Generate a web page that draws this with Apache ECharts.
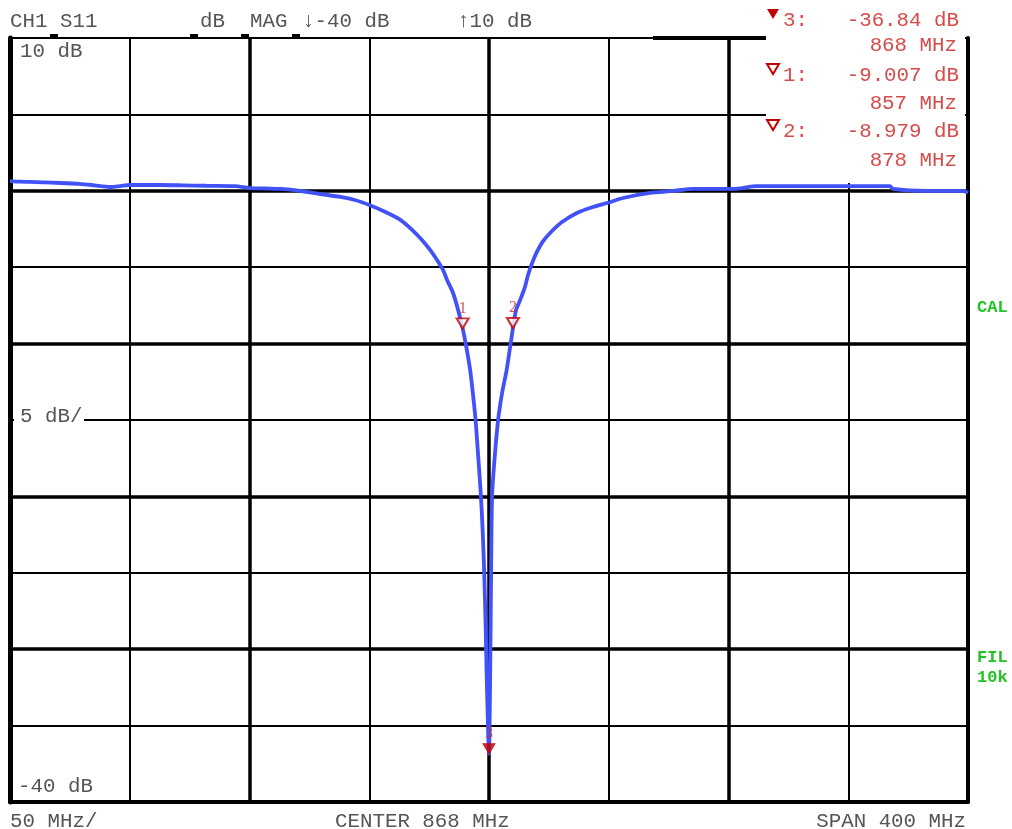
<!DOCTYPE html>
<html>
<head>
<meta charset="utf-8">
<style>
html,body{margin:0;padding:0;background:#fff;}
#chart{width:1012px;height:829px;}
</style>
<script src="https://cdn.jsdelivr.net/npm/echarts@6/dist/echarts.min.js"></script>
</head>
<body>
<div id="chart"></div>
<script>
// ---- data ----
const CENTER_MHZ = 868;
const SPAN_MHZ = 400;
const DIV_MHZ = 50;
const REF_TOP_DB = 10;
const REF_BOTTOM_DB = -40;
const DB_PER_DIV = 5;

const freqMHz = [
  668, 672, 676, 682, 689, 697, 702, 706, 710, 714, 718, 725, 731, 740, 750, 762, 768, 775, 781, 789,
  797, 806, 812, 818, 825, 831, 836, 840, 843.4, 846.3, 848.8, 850.5, 853, 855.1, 857, 858.5, 860.1,
  861.3, 862.4, 863.5, 864.6, 865.4, 866.1, 866.6, 867.0, 867.4, 868,
  868.3, 868.6, 868.9, 869.3, 870.4, 871.8, 873.5, 875.4, 878, 879.3, 881, 883, 884.3, 886, 888, 890.6,
  894.3, 898.5, 904.7, 911.4, 917.3, 924, 935.2, 944.8, 953.2, 969.9, 979.9, 1011.6, 1035.4, 1036.7,
  1050.9, 1065.9, 1068
];
const s11dB = [
  0.64, 0.60, 0.58, 0.55, 0.51, 0.45, 0.38, 0.31, 0.25, 0.31, 0.38, 0.38, 0.38, 0.36, 0.33, 0.31, 0.18, 0.15, 0.12, 0.00,
  -0.20, -0.40, -0.60, -0.93, -1.40, -1.90, -2.57, -3.22, -3.87, -4.53, -5.18, -5.84, -6.69, -7.80, -9.007, -10.2, -11.7,
  -13.3, -15.0, -17.4, -19.9, -22.4, -25.5, -28.5, -31.5, -34.0, -36.84,
  -34.3, -30.0, -24.5, -19.9, -17.4, -15.0, -13.2, -11.7, -8.979, -7.80, -7.15, -6.30, -5.51, -4.73, -4.00, -3.29,
  -2.63, -2.04, -1.45, -1.06, -0.80, -0.47, -0.14, -0.01, 0.12, 0.12, 0.31, 0.31, 0.31, 0.12,
  -0.01, -0.01, -0.14
];

const markerIds = ['3', '1', '2'];
const markerFreq = [868, 857, 878];
const markerDb = [-36.84, -9.007, -8.979];
const markerFilled = [true, false, false];

const headerTexts = ['CH1 S11', 'dB  MAG', '\u2193-40 dB', '\u219110 dB'];
const yTopLabel = REF_TOP_DB + ' dB';
const yScaleLabel = DB_PER_DIV + ' dB/';
const yBottomLabel = REF_BOTTOM_DB + ' dB';
const xScaleLabel = DIV_MHZ + ' MHz/';
const xCenterLabel = 'CENTER ' + CENTER_MHZ + ' MHz';
const xSpanLabel = 'SPAN ' + SPAN_MHZ + ' MHz';
const sideLabels = ['CAL', 'FIL', '10k'];

// ---- chart ----
const chart = echarts.init(document.getElementById('chart'), null, {renderer: 'canvas'});
const HALF = SPAN_MHZ / 2;
const MONO = "'Liberation Mono', 'DejaVu Sans Mono', monospace";
const GREY = '#555555';
const RED_TXT = '#d44c4c';
const RED = '#c40000';
const GREEN = '#22c322';

const traceData = freqMHz.map((f, i) => [f - CENTER_MHZ, s11dB[i]]);
const markerData = markerIds.map((id, i) => ({
  value: [markerFreq[i] - CENTER_MHZ, markerDb[i]],
  name: id,
  itemStyle: markerFilled[i]
    ? {color: RED, borderColor: RED, borderWidth: 1}
    : {color: '#ffffff', borderColor: RED, borderWidth: 2}
}));

const graphics = [];
function txt(x, y, text, opts) {
  graphics.push({
    type: 'text', x: x, y: y, z: 200,
    style: Object.assign({
      text: text, fill: GREY, font: '20.8px ' + MONO,
      textAlign: 'left', textVerticalAlign: 'middle'
    }, opts || {})
  });
}
function rect(x, y, w, h, fill, z) {
  graphics.push({type: 'rect', z: z || 150, shape: {x: x, y: y, width: w, height: h}, style: {fill: fill}});
}

// cover grid where the marker panel sits, and behind scale label
rect(766, 0, 199, 183, '#ffffff', 150);
rect(14, 416, 70, 8, '#ffffff', 150);
// top border thick segment and little ticks
rect(653, 36, 113, 4, '#000000', 160);
[50, 190, 241, 292].forEach(x => rect(x, 34, 8, 4, '#000000', 160));

// header
txt(10, 21, headerTexts[0]);
txt(200, 21, headerTexts[1]);
txt(302, 21, headerTexts[2]);
txt(457, 21, headerTexts[3]);

// left labels
txt(20, 51, yTopLabel);
txt(20, 416, yScaleLabel);
txt(18, 786, yBottomLabel);

// bottom labels
txt(10, 821, xScaleLabel);
txt(335, 821, xCenterLabel);
txt(966, 821, xSpanLabel, {textAlign: 'right'});

// side labels
txt(977, 308, sideLabels[0], {fill: GREEN, font: 'bold 17px ' + MONO});
txt(977, 658, sideLabels[1], {fill: GREEN, font: 'bold 17px ' + MONO});
txt(977, 678, sideLabels[2], {fill: GREEN, font: 'bold 17px ' + MONO});

// marker panel
const panelY1 = [20, 75, 131];
const panelY2 = [45, 103, 160];
markerIds.forEach((id, i) => {
  const ty = panelY1[i];
  graphics.push({
    type: 'polygon', z: 200,
    shape: {points: [[767, ty - 11], [779, ty - 11], [773, ty - 1]]},
    style: markerFilled[i] ? {fill: RED} : {fill: '#ffffff', stroke: RED, lineWidth: 2}
  });
  txt(783, ty, id + ':', {fill: RED_TXT});
  txt(959, ty, markerDb[i].toPrecision(4) + ' dB', {fill: RED_TXT, textAlign: 'right'});
  txt(957, panelY2[i], markerFreq[i] + ' MHz', {fill: RED_TXT, textAlign: 'right'});
});

const thinLine = {show: true, lineStyle: {color: '#000', width: 2}};
const option = {
  animation: false,
  backgroundColor: '#ffffff',
  grid: {left: 10, right: 44, top: 38, bottom: 27, containLabel: false},
  xAxis: [
    {type: 'value', min: -HALF, max: HALF, interval: DIV_MHZ, position: 'bottom',
     axisLine: {show: true, onZero: false, lineStyle: {color: '#000', width: 4}},
     axisTick: {show: false}, axisLabel: {show: false}, splitLine: thinLine},
    {type: 'value', min: -HALF, max: HALF, interval: DIV_MHZ * 2, position: 'top',
     axisLine: {show: true, onZero: false, lineStyle: {color: '#000', width: 2}},
     axisTick: {show: false}, axisLabel: {show: false},
     splitLine: {show: true, lineStyle: {color: '#000', width: 3.5}}}
  ],
  yAxis: [
    {type: 'value', min: REF_BOTTOM_DB, max: REF_TOP_DB, interval: DB_PER_DIV, position: 'left',
     axisLine: {show: true, onZero: false, lineStyle: {color: '#000', width: 5}},
     axisTick: {show: false}, axisLabel: {show: false}, splitLine: thinLine},
    {type: 'value', min: REF_BOTTOM_DB, max: REF_TOP_DB, interval: DB_PER_DIV * 2, position: 'right',
     axisLine: {show: true, onZero: false, lineStyle: {color: '#000', width: 4}},
     axisTick: {show: false}, axisLabel: {show: false},
     splitLine: {show: true, lineStyle: {color: ['#000', '#000', '#000', '#000', '#000', 'rgba(0,0,0,0)'], width: 3.5}}}
  ],
  series: [
    {type: 'line', xAxisIndex: 0, yAxisIndex: 0, data: traceData, showSymbol: false,
     smooth: 0.25, z: 20,
     lineStyle: {color: '#4152f8', width: 3.8}},
    {type: 'scatter', xAxisIndex: 0, yAxisIndex: 0, data: markerData, z: 30,
     symbol: 'triangle', symbolRotate: 180, symbolSize: [12, 10], symbolOffset: [0, -5],
     label: {show: true, position: 'top', distance: 1, formatter: p => p.name,
             color: '#c83030', fontFamily: "'Liberation Serif', serif", fontSize: 16}}
  ],
  graphic: graphics
};
chart.setOption(option);
</script>
</body>
</html>
